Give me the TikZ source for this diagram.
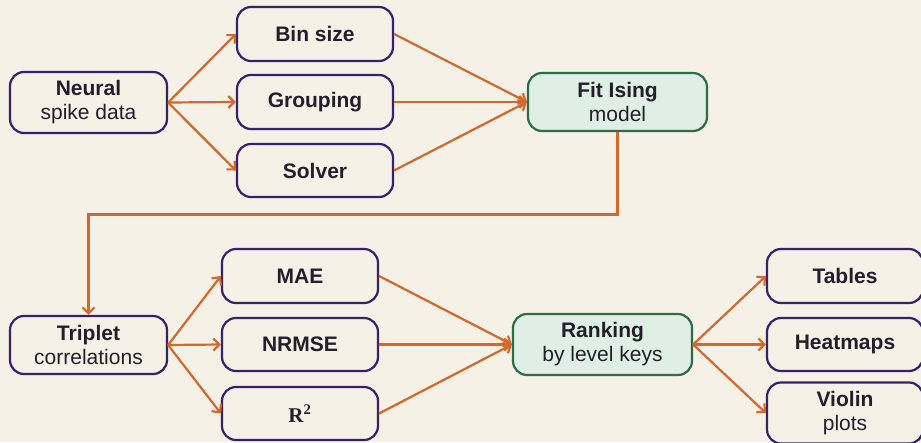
\documentclass[tikz,border=0pt]{standalone}
\usepackage{fontspec}
\setmainfont{Liberation Sans}
\newfontfamily\rserif{Liberation Serif}
\usetikzlibrary{arrows.meta}
\definecolor{bgc}{HTML}{F5F1E7}
\definecolor{purp}{HTML}{3A1F6B}
\definecolor{grn}{HTML}{2F6B44}
\definecolor{grnfill}{HTML}{E0EFE5}
\definecolor{orng}{HTML}{D3682C}
\definecolor{txt}{HTML}{221E2A}
\tikzset{
  box/.style={draw=purp, line width=2.2pt, rounded corners=14pt, fill=bgc,
    inner sep=0pt, align=center, text=txt,
    font=\fontsize{21}{24}\selectfont},
  gbox/.style={box, draw=grn, fill=grnfill},
  conn/.style={draw=orng, line width=2.2pt, -{Straight Barb[length=6pt,width=12pt]}},
}
\begin{document}
\begin{tikzpicture}[x=1pt,y=-1pt]
\useasboundingbox[fill=bgc] (0,0) rectangle (921,442);
\node[box, minimum width=157pt, minimum height=61pt] (neural) at (88.5,102.5) {\textbf{Neural}\\spike data};
\node[box, minimum width=156pt, minimum height=54pt] (bin) at (315,34) {\textbf{Bin size}};
\node[box, minimum width=156pt, minimum height=54pt] (grp) at (315,102) {\textbf{Grouping}};
\node[box, minimum width=156pt, minimum height=53pt] (sol) at (315,170.5) {\textbf{Solver}};
\node[gbox, minimum width=179pt, minimum height=58pt] (fit) at (617.5,102) {\textbf{Fit Ising}\\model};
\node[box, minimum width=157pt, minimum height=58pt] (trip) at (88.5,345) {\textbf{Triplet}\\correlations};
\node[box, minimum width=156pt, minimum height=54pt] (mae) at (300,276) {\textbf{MAE}};
\node[box, minimum width=156pt, minimum height=53pt] (nrmse) at (300,344.5) {\textbf{NRMSE}};
\node[box, minimum width=156pt, minimum height=53pt] (r2) at (300,413.5) {{\rserif\bfseries R\textsuperscript{2}}};
\node[gbox, minimum width=179pt, minimum height=61pt] (rank) at (602.5,344.5) {\textbf{Ranking}\\by level keys};
\node[box, minimum width=156pt, minimum height=54pt] (tab) at (845,276) {\textbf{Tables}};
\node[box, minimum width=156pt, minimum height=53pt] (heat) at (845,344.5) {\textbf{Heatmaps}};
\node[box, minimum width=156pt, minimum height=61pt] (viol) at (845,413) {\textbf{Violin}\\plots};
\coordinate (c1) at (617.5,214.5);
\coordinate (c2) at (88.5,214.5);
\foreach \t in {bin,grp,sol} {
  \draw[conn] (neural.east) -- (\t.west);
  \draw[conn] (\t.east) -- (fit.west);
}
\draw[conn] (fit.south) -- (c1) -- (c2) -- (trip.north);
\foreach \t in {mae,nrmse,r2} {
  \draw[conn] (trip.east) -- (\t.west);
  \draw[conn] (\t.east) -- (rank.west);
}
\foreach \t in {tab,heat,viol} {
  \draw[conn] (rank.east) -- (\t.west);
}
\end{tikzpicture}
\end{document}
